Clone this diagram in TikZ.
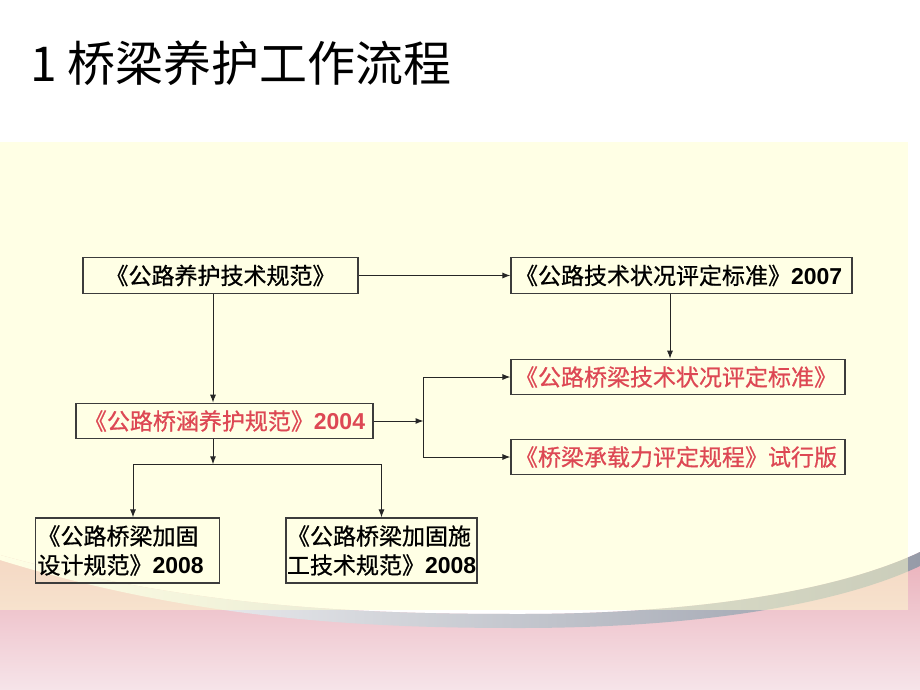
\documentclass[tikz,border=0pt]{standalone}
\usepackage{fontspec}
\usepackage{xcolor}
\usepackage{tikz}
\usetikzlibrary{arrows.meta}
\usetikzlibrary{positioning}
\usetikzlibrary{calc}
\setmainfont{Noto Sans CJK SC}
\newfontfamily\boxfont{Noto Sans CJK SC}[FakeBold=0.7]
\newfontfamily\yrfont{Liberation Sans}
\newcommand{\yr}[1]{{\yrfont\bfseries #1}}
\definecolor{cream}{RGB}{255,255,205}
\definecolor{rosetop}{RGB}{234,176,186}
\definecolor{rosebot}{RGB}{246,228,233}
\definecolor{band}{RGB}{150,155,168}
\definecolor{textred}{RGB}{221,72,84}
\definecolor{boxline}{RGB}{60,60,60}
\tikzset{
  doc/.style={draw=boxline, line width=1.1pt, inner sep=0pt, minimum height=35.5pt,
    font=\boxfont\fontsize{23}{29}\selectfont},
  redtext/.style={text=textred},
  link/.style={->, line width=1pt, draw=black!85},
}

\begin{document}
\begin{tikzpicture}[x=1pt, y=-1pt, on grid, >={Latex[length=8pt,width=6pt]}]
  \useasboundingbox (0,0) rectangle (920,690);
  \clip (0,0) rectangle (920,690);
  % background
  \fill[white] (0,0) rectangle (920,690);
  \shade[top color=rosetop, bottom color=rosebot]
    (0,555) .. controls (200,610) and (380,614) .. (520,614)
    .. controls (700,614) and (840,590) .. (920,552) -- (920,690) -- (0,690) -- cycle;
  \shade[left color=white, middle color=band!60, right color=band]
    (0,555) .. controls (200,610) and (380,614) .. (520,614)
    .. controls (700,614) and (840,590) .. (920,552) -- (920,566)
    .. controls (840,604) and (700,628) .. (520,628)
    .. controls (380,628) and (200,622) .. (0,560) -- cycle;
  \fill[cream, opacity=0.5] (0,142) rectangle (908,610);

  \node[anchor=west, font=\fontsize{48}{48}\selectfont] (title) at (27,63) {1 桥梁养护工作流程};

  % documents
  \node[doc, minimum width=275pt]                    (yhgf) at (220.5,275.5) {《公路养护技术规范》};
  \node[doc, text width=333pt, inner xsep=4pt, align=left]
                                                     (jspd) [right=461pt of yhgf] {《公路技术状况评定标准》\yr{2007}};
  \node[doc, redtext, text width=326pt, inner xsep=4pt, align=left]
                                                     (qlpd) [below=101.5pt of jspd, xshift=-3.5pt] {《公路桥梁技术状况评定标准》};
  \node[doc, redtext, text width=326pt, inner xsep=4pt, align=left]
                                                     (czgc) [below=80pt of qlpd] {《桥梁承载力评定规程》试行版};
  \node[doc, redtext, minimum width=297pt]           (qhgf) at (224.5,421) {《公路桥涵养护规范》\yr{2004}};
  \node[doc, text width=180pt, inner xsep=2pt, align=left, minimum height=65pt]
                                                     (jgsj) at (127.5,550.5) {《公路桥梁加固\\设计规范》\yr{2008}};
  \node[doc, text width=189pt, inner xsep=1pt, align=left, minimum height=65pt]
                                                     (jgsg) [right=254pt of jgsj] {《公路桥梁加固施\\工技术规范》\yr{2008}};

  % junctions
  \coordinate (jr) at ([xshift=50pt]qhgf.east);
  \coordinate (jb) at ([xshift=-11.5pt, yshift=-25pt]qhgf.south);

  % links
  \path
    (yhgf) edge[link] (jspd)
    ([xshift=-7.5pt]yhgf.south) edge[link] ([xshift=-7.5pt]yhgf.south |- qhgf.north)
    ([xshift=-11.5pt]jspd.south) edge[link] ([xshift=-11.5pt]jspd.south |- qlpd.north)
    (qhgf) edge[link] (jr)
    ([xshift=-11.5pt]qhgf.south) edge[link] (jb);
  \draw[link] (jr) |- (qlpd);
  \draw[link] (jr) |- (czgc);
  \draw[link] (jb) -| ([xshift=5.5pt]jgsj.north);
  \draw[link] (jb) -| (jgsg.north);
\end{tikzpicture}
\end{document}
